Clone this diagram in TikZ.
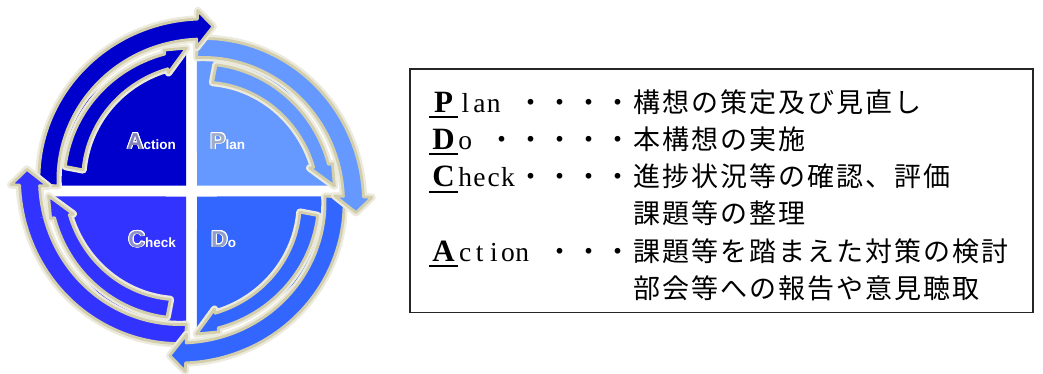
\documentclass[tikz,border=0pt]{standalone}
\usepackage{fontspec}
\setmainfont{Liberation Serif}
\newfontfamily\jpfont{Noto Sans CJK JP}[LetterSpace=7.4]
\newfontfamily\lsfont{Liberation Sans}
\usepackage{contour}
\contourlength{0.9pt}
\definecolor{cA}{HTML}{0000CC}
\definecolor{cP}{HTML}{6699FF}
\definecolor{cD}{HTML}{3366FF}
\definecolor{cC}{HTML}{3333FF}
\definecolor{glowc}{HTML}{D3CEAC}
\definecolor{glowl}{HTML}{ECEADC}
\tikzset{
  arrowglow/.style={fill=#1, draw=glowc, line width=2.8pt, line join=round,
    preaction={draw=glowl, line width=7.5pt, line join=round}},
  quad/.style={fill=#1},
  qlbl/.style={inner sep=0pt},
  capl/.style={inner sep=0pt, anchor=base, font=\bfseries\fontsize{31}{31}\selectfont},
  monol/.style={inner sep=0pt, anchor=base west, font=\fontsize{27.5}{28}\selectfont},
  jpl/.style={inner sep=0pt, anchor=base west, font=\jpfont\fontsize{27}{28}\selectfont},
  uline/.style={line width=2pt, black},
  legendbox/.style={draw=black!85, line width=1.5pt, inner sep=0pt, anchor=south west,
    minimum width=623pt, minimum height=243pt}
}
% #1 style, #2 start angle, #3 body end angle, #4 tip angle, #5 rc start, #6 rc end,
% #7 half width start, #8 half width end, #9 head half width; tip radius \tipr
\newcommand\sarrow[9]{%
  \path[#1] plot[domain=0:1,samples=50,variable=\t]
    ({((#5)+((#6)-(#5))*\t+(#7)+((#8)-(#7))*\t)*cos((#2)+((#3)-(#2))*\t)},
     {((#5)+((#6)-(#5))*\t+(#7)+((#8)-(#7))*\t)*sin((#2)+((#3)-(#2))*\t)})
    -- (#3:{(#6)+(#9)}) -- (#4:\tipr) -- (#3:{(#6)-(#9)})
    -- plot[domain=0:1,samples=50,variable=\t]
    ({((#6)+((#5)-(#6))*\t-(#8)-((#7)-(#8))*\t)*cos((#3)+((#2)-(#3))*\t)},
     {((#6)+((#5)-(#6))*\t-(#8)-((#7)-(#8))*\t)*sin((#3)+((#2)-(#3))*\t)})
    -- cycle;}
\newcommand\qlabel[3]{{\lsfont\bfseries\fontsize{23}{23}\selectfont\color{#3!40!gray!70!white}\contour{white}{#1}}{\lsfont\bfseries\fontsize{13.5}{14}\selectfont\color{white}#2}}
\newcommand\mc[1]{\makebox[14.25pt]{#1}}
\begin{document}
\begin{tikzpicture}[x=1pt,y=1pt]
\useasboundingbox (0,0) rectangle (1043,373);
\fill[white] (0,0) rectangle (1043,373);
\begin{scope}[shift={(191.5,182)}]
  % quadrants
  \fill[quad=cA] (-5.5,5.5) -- (177.72:138) arc[start angle=177.72,end angle=92.28,radius=138pt] -- cycle;
  \fill[quad=cP] (5.5,5.5) -- (87.72:138) arc[start angle=87.72,end angle=2.28,radius=138pt] -- cycle;
  \fill[quad=cD] (5.5,-5.5) -- (-2.28:138) arc[start angle=-2.28,end angle=-87.72,radius=138pt] -- cycle;
  \fill[quad=cC] (-5.5,-5.5) -- (-92.28:138) arc[start angle=-92.28,end angle=-177.72,radius=138pt] -- cycle;
  % inner arrows
  \def\tipr{143}
  \sarrow{arrowglow=cA}{169}{101}{92}{119.5}{132}{9}{7.5}{11.5}
  \sarrow{arrowglow=cP}{79}{11}{2}{119.5}{132}{9}{7.5}{11.5}
  \sarrow{arrowglow=cD}{-11}{-79}{-88}{119.5}{132}{9}{7.5}{11.5}
  \sarrow{arrowglow=cC}{-101}{-169}{-178}{119.5}{132}{9}{7.5}{11.5}
  % outer arrows
  \def\tipr{166}
  \sarrow{arrowglow=cC}{-92.2}{-182}{-187.5}{143}{162}{9.5}{10}{18.5}
  \sarrow{arrowglow=cD}{-2.2}{-92}{-97.5}{143}{162}{9.5}{10}{18.5}
  \sarrow{arrowglow=cP}{87.8}{-2}{-7.5}{143}{162}{9.5}{10}{18.5}
  \sarrow{arrowglow=cA}{177.8}{88}{82.5}{143}{162}{9.5}{10}{18.5}
  \begin{scope}
    \clip (0,0) -- (-200:240) arc[start angle=-200,end angle=-170,radius=240pt] -- cycle;
    \sarrow{arrowglow=cC}{-92.2}{-182}{-187.5}{143}{162}{9.5}{10}{18.5}
  \end{scope}
\end{scope}
% quadrant labels
\node[qlbl, anchor=base east] (lblA) at (176,224) {\qlabel{A}{ction}{cA}};
\node[qlbl, anchor=base west] (lblP) at (210,224) {\qlabel{P}{lan}{cP}};
\node[qlbl, anchor=base east] (lblC) at (176,126) {\qlabel{C}{heck}{cC}};
\node[qlbl, anchor=base west] (lblD) at (211,126) {\qlabel{D}{o}{cD}};
% legend box
\node[legendbox] (box) at (409,60) {};
% line 1
\node[capl] (p1) at (443.5,261) {P};
\node[monol] (p2) at (458,261) {\mc{l}\mc{a}\mc{n}};
\node[jpl] (p3) at (517,261) {・・・・構想の策定及び見直し};
\draw[uline] (429,256) -- (458,256);
% line 2
\node[capl] (d1) at (443.5,223.7) {D};
\node[monol] (d2) at (458,223.7) {\mc{o}};
\node[jpl] (d3) at (488,223.7) {・・・・・本構想の実施};
\draw[uline] (429,218.7) -- (458,218.7);
% line 3
\node[capl] (c1) at (443.5,186.4) {C};
\node[monol] (c2) at (458,186.4) {\mc{h}\mc{e}\mc{c}\mc{k}};
\node[jpl] (c3) at (517,186.4) {・・・・進捗状況等の確認、評価};
\draw[uline] (429,181.4) -- (458,181.4);
% line 4
\node[jpl] (c4) at (633,149.1) {課題等の整理};
% line 5
\node[capl] (a1) at (443.5,111.8) {A};
\node[monol] (a2) at (458,111.8) {\mc{c}\mc{t}\mc{i}\mc{o}\mc{n}};
\node[jpl] (a3) at (546,111.8) {・・・課題等を踏まえた対策の検討};
\draw[uline] (429,106.8) -- (458,106.8);
% line 6
\node[jpl] (a4) at (633,74.5) {部会等への報告や意見聴取};
\end{tikzpicture}
\end{document}
